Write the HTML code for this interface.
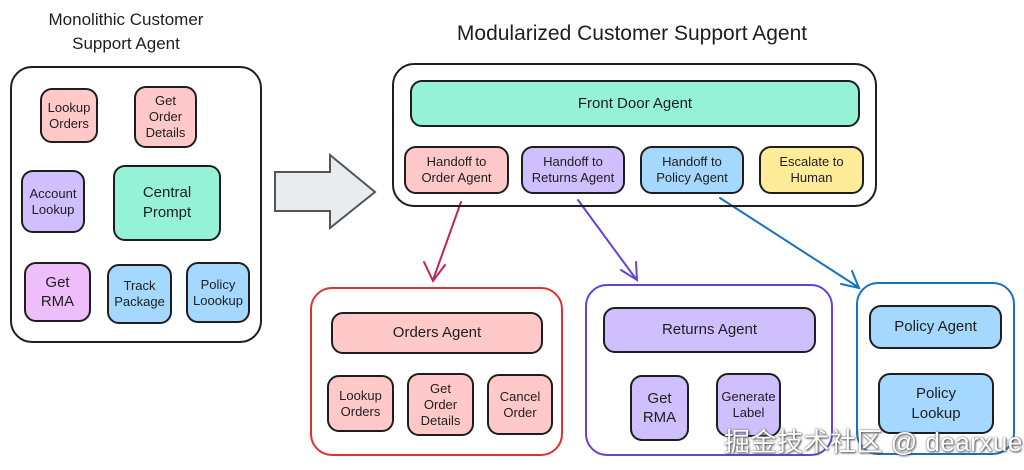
<!DOCTYPE html>
<html><head><meta charset="utf-8"><style>
body{margin:0;width:1024px;height:470px;background:#fff;position:relative;overflow:hidden;font-family:"Liberation Sans","Noto Sans CJK SC",sans-serif;color:#1e1e1e}
.b{position:absolute;box-sizing:border-box;border:2.5px solid #1e1e1e;border-radius:12px;display:flex;align-items:center;justify-content:center;text-align:center;font-size:13px;line-height:16px}
.c{position:absolute;box-sizing:border-box;border:2.5px solid #1e1e1e;border-radius:22px}
.t{position:absolute;text-align:center;font-size:17px;line-height:24px}
.pk{background:#ffc9c9}.pu{background:#d0bfff}.bl{background:#a5d8ff}.mi{background:#96f2d7}.ye{background:#ffec99}.vi{background:#eebefa}
</style></head><body>
<div class="t" style="left:0;width:252px;top:8px">Monolithic Customer<br>Support Agent</div>
<div class="c" style="left:10px;top:66px;width:252px;height:277px"></div>
<div class="b pk" style="left:40px;top:88px;width:58px;height:55px">Lookup<br>Orders</div>
<div class="b pk" style="left:134px;top:86px;width:63px;height:62px">Get<br>Order<br>Details</div>
<div class="b pu" style="left:21px;top:170px;width:64px;height:63px">Account<br>Lookup</div>
<div class="b mi" style="left:113px;top:165px;width:108px;height:76px;font-size:15px;line-height:20px">Central<br>Prompt</div>
<div class="b vi" style="left:24px;top:262px;width:67px;height:60px;font-size:15px;line-height:19px">Get<br>RMA</div>
<div class="b bl" style="left:107px;top:264px;width:65px;height:60px">Track<br>Package</div>
<div class="b bl" style="left:186px;top:262px;width:64px;height:61px">Policy<br>Loookup</div>
<svg style="position:absolute;left:0;top:0" width="1024" height="470">
<polygon points="275,172 330,172 330,155 375,192 330,228 330,211 275,211" fill="#e9ecef" stroke="#555" stroke-width="2"/>
<g fill="none" stroke-width="2" stroke-linecap="round">
<path d="M461,202 L433,280 M424,262 L433,281 L445,265" stroke="#c2255c"/>
<path d="M578,200 L636,279 M621,270 L637,280 L636,262" stroke="#6741d9"/>
<path d="M720,198 L858,287 M841,284 L859,288 L852,271" stroke="#1971c2"/>
</g></svg>
<div class="t" style="left:392px;width:480px;top:22px;font-size:21px">Modularized Customer Support Agent</div>
<div class="c" style="left:392px;top:63px;width:485px;height:144px"></div>
<div class="b mi" style="left:410px;top:80px;width:450px;height:47px;font-size:15px">Front Door Agent</div>
<div class="b pk" style="left:404px;top:146px;width:105px;height:48px">Handoff to<br>Order Agent</div>
<div class="b pu" style="left:521px;top:146px;width:104px;height:48px">Handoff to<br>Returns Agent</div>
<div class="b bl" style="left:640px;top:146px;width:104px;height:48px">Handoff to<br>Policy Agent</div>
<div class="b ye" style="left:759px;top:146px;width:105px;height:48px">Escalate to<br>Human</div>
<div class="c" style="left:310px;top:287px;width:253px;height:169px;border-color:#e03131"></div>
<div class="b pk" style="left:331px;top:312px;width:212px;height:42px;font-size:15px">Orders Agent</div>
<div class="b pk" style="left:327px;top:375px;width:67px;height:57px">Lookup<br>Orders</div>
<div class="b pk" style="left:407px;top:373px;width:67px;height:63px">Get<br>Order<br>Details</div>
<div class="b pk" style="left:487px;top:374px;width:66px;height:61px">Cancel<br>Order</div>
<div class="c" style="left:585px;top:284px;width:248px;height:172px;border-color:#6741d9"></div>
<div class="b pu" style="left:603px;top:307px;width:213px;height:46px;font-size:15px">Returns Agent</div>
<div class="b pu" style="left:630px;top:375px;width:59px;height:66px;font-size:15px;line-height:19px">Get<br>RMA</div>
<div class="b pu" style="left:716px;top:373px;width:65px;height:64px">Generate<br>Label</div>
<div class="c" style="left:856px;top:282px;width:159px;height:173px;border-color:#1971c2"></div>
<div class="b bl" style="left:869px;top:305px;width:133px;height:44px;font-size:15px">Policy Agent</div>
<div class="b bl" style="left:878px;top:373px;width:116px;height:61px;font-size:15px;line-height:20px">Policy<br>Lookup</div>
<div style="position:absolute;left:724px;top:422px;font-size:26px;letter-spacing:0.5px;color:#fff;text-shadow:0 0 2px #666,1px 1px 2px #444">掘金技术社区 @ dearxue</div>
</body></html>
